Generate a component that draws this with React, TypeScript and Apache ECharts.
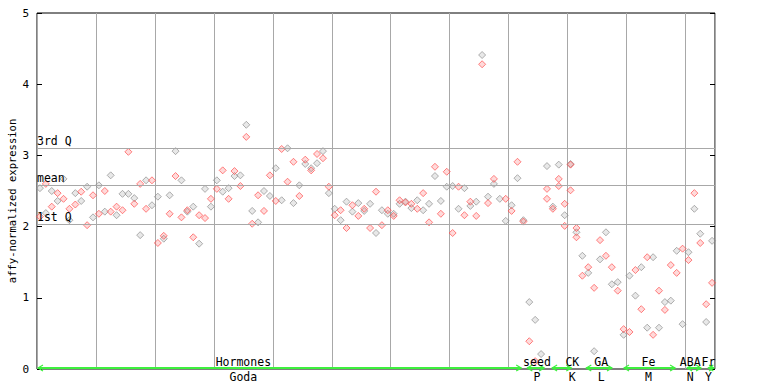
import React, { useEffect, useRef } from "react";
import * as echarts from "echarts";

// ---- data (sample slots 0..114) ----
const SAMPLE_COUNT = 115;

const grayVals: (number | null)[] = [
  2.54, 2.19, 2.50, 2.36, 2.67, 2.09, 2.47, 2.36, 2.56, 2.13,
  2.58, 2.21, 2.72, 2.16, 2.46, 2.46, 2.40, 1.88, 2.65, 2.30,
  2.42, 1.83, 2.44, 3.06, 2.65, 2.21, 2.28, 1.76, 2.53, 2.28,
  2.65, 2.49, 2.54, 2.71, 2.72, 3.43, 2.22, 2.06, 2.50, 2.43,
  2.82, 2.37, 3.10, 2.33, 2.58, 2.88, 2.82, 2.89, 3.06, 2.47,
  2.25, 2.09, 2.35, 2.21, 2.33, 2.22, 2.32, 1.91, 2.23, 2.18,
  2.18, 2.32, 2.35, 2.26, 2.37, 2.23, 2.32, 2.71, 2.36, 2.56,
  2.57, 2.25, 2.54, 2.29, 2.35, 4.41, 2.42, 2.60, 2.39, 2.08,
  2.30, 2.68, 2.09, 0.94, 0.69, 0.21, 2.85, 2.28, 2.87, 2.16,
  2.88, 1.92, 1.59, 1.35, 0.25, 1.54, 1.92, 1.19, 1.22, 0.48,
  1.31, 1.03, 1.43, 0.58, 1.57, 0.58, 0.94, 0.96, 1.66, 0.63,
  1.64, 2.25, 1.90, 0.66, 1.80,
];

const redVals: (number | null)[] = [
  2.14, 2.60, 2.28, 2.47, 2.39, 2.25, 2.31, 2.49, 2.02, 2.44,
  2.18, 2.50, 2.21, 2.28, 2.23, 3.05, 2.32, 2.60, 2.25, 2.65,
  1.77, 1.87, 2.18, 2.71, 2.13, 2.23, 1.85, 2.16, 2.12, 2.39,
  2.53, 2.79, 2.39, 2.78, 2.57, 3.26, 2.04, 2.44, 2.22, 2.72,
  2.36, 3.09, 2.63, 2.91, 2.43, 2.94, 2.79, 3.02, 2.96, 2.56,
  2.16, 2.23, 1.98, 2.30, 2.15, 2.25, 1.98, 2.49, 2.02, 2.23,
  2.15, 2.37, 2.34, 2.32, 2.25, 2.47, 2.06, 2.84, 2.18, 2.77,
  1.91, 2.56, 2.16, 2.35, 2.15, 4.28, 2.33, 2.67, null, 2.39,
  2.22, 2.91, 2.07, 0.39, 0.11, null, 2.53, 2.25, 2.67, 2.32,
  2.87, 1.98, 1.31, 1.43, 1.14, 1.81, 1.59, 1.43, 1.10, 0.56,
  0.52, 1.39, 0.84, 1.57, 0.48, 1.10, 0.83, 1.46, 1.35, 1.69,
  1.53, 2.47, 1.77, 0.91, 1.21,
];

const extraIdx = [86, 88, 89, 90, 91];
const extraVals = [2.39, 2.57, 2.01, 2.51, 1.85];

const refNames = ["3rd Q", "mean", "1st Q"];
const refValues = [3.1, 2.585, 2.036];

const yTicks = [0, 1, 2, 3, 4, 5];
const yTitle = "affy-normalized expression";

const groupTop = ["Hormones", "seed", "CK", "GA", "Fe", "ABA", "Fr"];
const groupBottom = ["Goda", "P", "K", "L", "M", "N", "Y"];
const groupStart = [0, 83.0, 87.2, 93.0, 99.4, 110.1, 113.7];
const groupEnd = [82.3, 86.2, 90.8, 97.7, 108.4, 112.8, 115];
const groupCenter = [35.0, 84.8, 90.8, 95.7, 103.7, 110.8, 113.9];

const MONO = "'DejaVu Sans Mono', 'Liberation Mono', monospace";
const GREEN = "#3ef03e";

export default function App() {
  const ref = useRef<HTMLDivElement>(null);

  useEffect(() => {
    const chart = echarts.init(ref.current!, null, { renderer: "svg" });
    const toPts = (vals: (number | null)[]) =>
      vals
        .map((v, i) => (v == null ? null : [i + 0.5, v]))
        .filter((p) => p !== null);
    const extraPts = extraIdx.map((idx, k) => [idx + 0.5, extraVals[k]]);

    const redStyle = {
      color: "rgba(255,90,90,0.28)",
      borderColor: "#ff5050",
      borderWidth: 0.9,
    };
    const grayStyle = {
      color: "rgba(150,150,150,0.28)",
      borderColor: "#909090",
      borderWidth: 0.9,
    };

    chart.setOption({
      animation: false,
      grid: {
        left: 37,
        right: 53,
        top: 13,
        bottom: 15,
        containLabel: false,
        outerBoundsMode: "none",
        show: true,
        borderColor: "#000",
        borderWidth: 1,
        backgroundColor: "transparent",
      },
      xAxis: {
        type: "value",
        min: 0,
        max: SAMPLE_COUNT,
        interval: 10,
        axisLine: { show: false },
        axisTick: { show: false },
        axisLabel: { show: false },
        splitLine: { show: true, lineStyle: { color: "#a8a8a8", width: 1 } },
      },
      yAxis: [
        {
          type: "value",
          min: 0,
          max: 5,
          interval: 1,
          position: "left",
          axisLine: { show: false },
          axisTick: { show: true, inside: true, length: 5, lineStyle: { color: "#000" } },
          axisLabel: {
            fontFamily: MONO,
            fontSize: 11,
            color: "#000",
            margin: 8,
            formatter: (v: number) => (yTicks.includes(v) ? String(v) : ""),
          },
          splitLine: { show: false },
        },
        {
          type: "value",
          min: 0,
          max: 5,
          interval: 1,
          position: "right",
          axisLine: { show: false },
          axisTick: { show: true, inside: true, length: 5, lineStyle: { color: "#000" } },
          axisLabel: { show: false },
          splitLine: { show: false },
        },
      ],
      series: [
        {
          type: "scatter",
          name: "gray",
          data: toPts(grayVals),
          symbol: "diamond",
          symbolSize: 7,
          itemStyle: grayStyle,
          z: 3,
          markLine: {
            silent: true,
            symbol: ["none", "none"],
            lineStyle: { color: "#a8a8a8", width: 1, type: "solid" },
            label: {
              show: true,
              position: "insideStartTop",
              distance: [0, 1],
              fontFamily: MONO,
              fontSize: 11.5,
              color: "#000",
              formatter: (p: any) => p.name,
            },
            data: refValues.map((v, k) => ({ name: refNames[k], yAxis: v })),
          },
        },
        {
          type: "scatter",
          name: "red",
          data: toPts(redVals),
          symbol: "diamond",
          symbolSize: 7,
          itemStyle: redStyle,
          z: 4,
        },
        {
          type: "scatter",
          name: "extra",
          data: extraPts,
          symbol: "diamond",
          symbolSize: 7,
          itemStyle: redStyle,
          z: 4,
        },
      ],
    });

    const px = (x: number) => chart.convertToPixel({ xAxisIndex: 0 }, x) as number;
    const py = (y: number) => chart.convertToPixel({ yAxisIndex: 0 }, y) as number;
    const y0 = py(0);
    const yl = y0 - 1;
    const graphics: any[] = [
      {
        type: "text",
        x: 12,
        y: py(2.36),
        rotation: Math.PI / 2,
        style: {
          text: yTitle,
          fontFamily: MONO,
          fontSize: 10.5,
          fill: "#000",
          align: "center",
          verticalAlign: "middle",
        },
      },
    ];
    groupTop.forEach((label, k) => {
      const xa = px(groupStart[k]) + 1;
      const xb = px(groupEnd[k]) - 1;
      graphics.push({
        type: "line",
        shape: { x1: xa, y1: yl, x2: xb, y2: yl },
        style: { stroke: GREEN, lineWidth: 2 },
        z: 20,
      });
      graphics.push({
        type: "polyline",
        shape: { points: [[xa + 5, yl - 3], [xa, yl], [xa + 5, yl + 3]] },
        style: { stroke: GREEN, lineWidth: 1.2, fill: null },
        z: 20,
      });
      graphics.push({
        type: "polyline",
        shape: { points: [[xb - 5, yl - 3], [xb, yl], [xb - 5, yl + 3]] },
        style: { stroke: GREEN, lineWidth: 1.2, fill: null },
        z: 20,
      });
      const cx = px(groupCenter[k]);
      graphics.push({
        type: "text",
        x: cx,
        y: y0 - 7,
        style: {
          text: label,
          fontFamily: MONO,
          fontSize: 11.5,
          fill: "#000",
          align: "center",
          verticalAlign: "middle",
        },
        z: 21,
      });
      graphics.push({
        type: "text",
        x: cx,
        y: y0 + 8,
        style: {
          text: groupBottom[k],
          fontFamily: MONO,
          fontSize: 11.5,
          fill: "#000",
          align: "center",
          verticalAlign: "middle",
        },
        z: 21,
      });
    });
    chart.setOption({ graphic: graphics });

    return () => chart.dispose();
  }, []);

  return (
    <div
      ref={ref}
      style={{ position: "fixed", left: 0, top: 0, width: 768, height: 384, background: "#fff" }}
    />
  );
}
